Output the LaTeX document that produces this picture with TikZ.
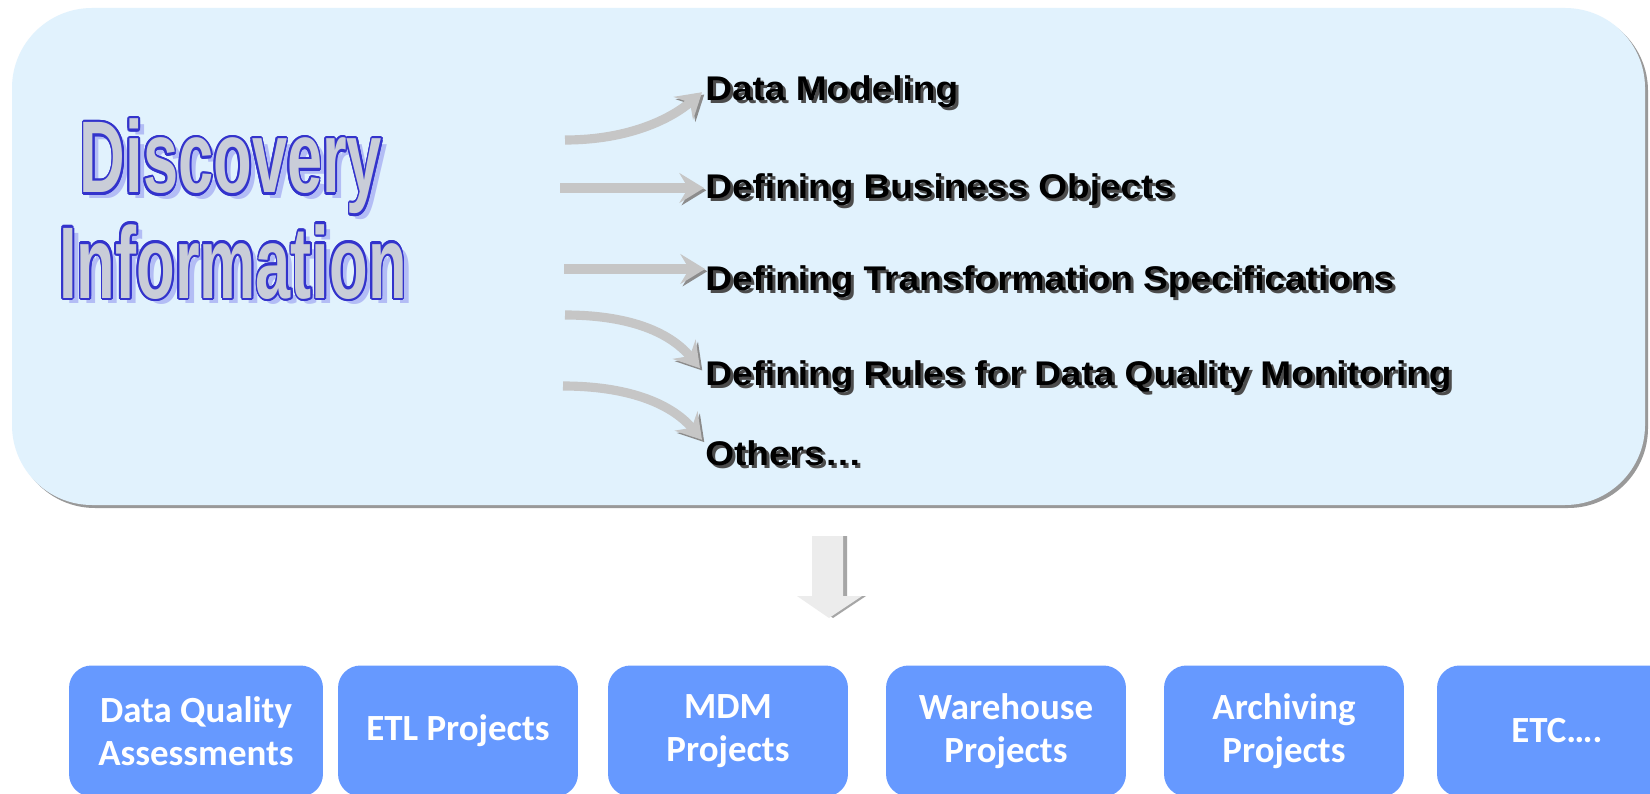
\documentclass[tikz,border=0pt]{standalone}
\usepackage{fontspec}
\usepackage{graphicx}
\usepackage{contour}
\usetikzlibrary{arrows.meta}
\setmainfont{Liberation Sans}
\newfontfamily\boxfont{Carlito}
\definecolor{panelblue}{HTML}{E1F2FD}
\definecolor{boxblue}{HTML}{6699FF}
\definecolor{titleblue}{HTML}{3333CC}
\definecolor{titlegray}{HTML}{C9CDD8}
\definecolor{titleshade}{HTML}{B3BDF5}
\contourlength{1.6pt}
\tikzset{
	title/.style={anchor=base, inner sep=0pt, font=\fontsize{58}{60}\selectfont\bfseries},
	item/.style={anchor=base west, inner sep=0pt, font=\fontsize{19.5}{23}\selectfont\bfseries},
	flow/.style={line width=5.2pt, draw=gray!45, -{Stealth[length=14pt, width=17pt, inset=5pt]},
		preaction={draw=gray!90, transform canvas={shift={(1.3pt,-1.3pt)}}}},
	project/.style={fill=boxblue, rounded corners=0.45cm, minimum width=4.8cm, minimum height=2.62cm,
		text=white, align=center, font=\boxfont\fontsize{21}{24.4}\selectfont\bfseries},
}
\begin{document}
\begin{tikzpicture}[x=0.02cm, y=-0.02cm]
		\clip (0,0) rectangle (1650,794);
		\fill[white] (0,0) rectangle (1650,794);
		\fill[gray!80, rounded corners=1.6cm] (15,11) rectangle (1648,508);
		\fill[panelblue, rounded corners=1.6cm] (12,8) rectangle (1645,505);
		\node[title, text=titleshade] at (237,198) {\scalebox{0.62}[1]{Discovery}};
		\node[title, text=titleshade] at (239,303) {\scalebox{0.62}[1]{Information}};
		\node[title, text=titlegray] (disc) at (231,193) {\scalebox{0.62}[1]{\contour{titleblue}{Discovery}}};
		\node[title, text=titlegray] (info) at (233,298) {\scalebox{0.62}[1]{\contour{titleblue}{Information}}};
		\foreach \y/\name/\txt in {101/model/Data Modeling, 198/objects/Defining Business Objects,
			290/transform/Defining Transformation Specifications,
			385/rules/Defining Rules for Data Quality Monitoring, 465/others/Others…}{
			\node[item, text=gray!60!black] at (708,\y+3) {\scalebox{1.08}[1]{\txt}};
			\node[item] (\name) at (705,\y) {\scalebox{1.08}[1]{\txt}};
		}
		\coordinate (S0) at (565,140);
		\coordinate (S1) at (560,188);
		\coordinate (S2) at (564,269);
		\coordinate (S3) at (565,315);
		\coordinate (S4) at (563,386);
		\draw[flow] (S0) .. controls (630,140) and (672,118) .. ([xshift=-0.06cm]model.west);
		\draw[flow] (S1) -- ([xshift=-0.02cm]objects.west |- S1);
		\draw[flow] (S2) -- (transform.west |- S2);
		\draw[flow] (S3) .. controls (625,315) and (668,330) .. ([xshift=-0.1cm, yshift=0.16cm]rules.west);
		\draw[flow] (S4) .. controls (625,386) and (670,402) .. ([xshift=-0.06cm]others.north west);
		\fill[gray!70] (816,536) -- (847,536) -- (847,596) -- (866,596) -- (833,618) -- (801,596) -- (816,596) -- cycle;
		\fill[gray!15] (812,536) -- (843,536) -- (843,596) -- (862,596) -- (829,618) -- (797,596) -- (812,596) -- cycle;
		\foreach \x/\name/\txt in {458/etl/ETL Projects, 728/mdm/{MDM\\Projects}, 1006/warehouse/{Warehouse\\Projects},
			1284/archive/{Archiving\\Projects}, 1557/etc/ETC….}{
			\node[project] (\name) at (\x,731) {\txt};
		}
		\node[project, minimum width=5.08cm] (dqa) at (196,731) {Data Quality\\Assessments};
\end{tikzpicture}
\end{document}
